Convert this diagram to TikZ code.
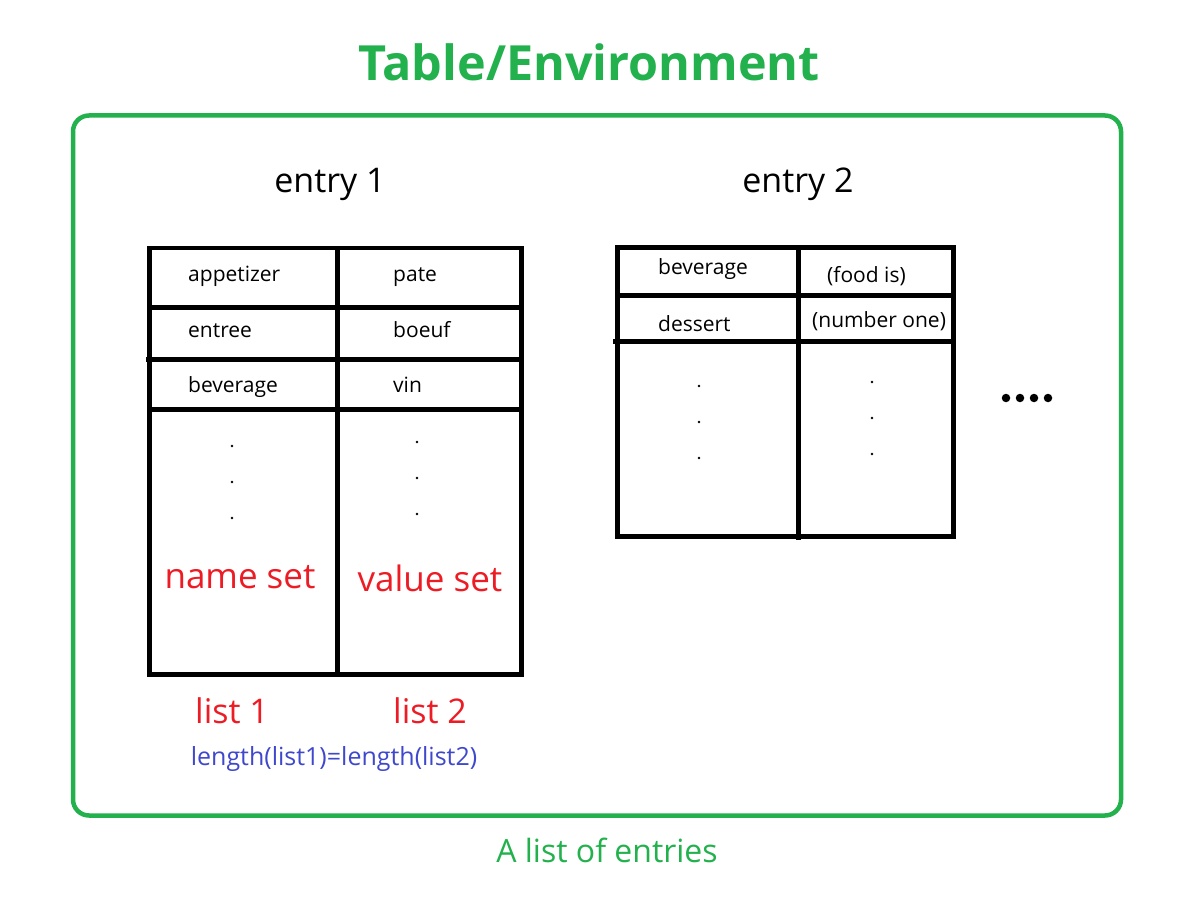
\documentclass[tikz,border=0pt]{standalone}
\usepackage{fontspec}
\setmainfont{Open Sans}
\definecolor{pgreen}{HTML}{22B14C}
\definecolor{pred}{HTML}{ED1C24}
\definecolor{pblue}{HTML}{3F48CC}
\tikzset{
  grid/.style={line width=4.5pt, black},
  cell/.style={anchor=base west, inner sep=0pt, font=\fontsize{21}{24}\selectfont},
  redlbl/.style={anchor=base, inner sep=0pt, text=pred, font=\fontsize{35}{40}\selectfont},
  entrylbl/.style={anchor=base, inner sep=0pt, font=\fontsize{34}{40}\selectfont},
  smalldot/.style={circle, fill=black, inner sep=0pt, minimum size=2.8pt},
  bigdot/.style={circle, fill=black, inner sep=0pt, minimum size=8.5pt},
}
\begin{document}
\begin{tikzpicture}[x=1pt,y=-1pt]
\useasboundingbox (0,0) rectangle (1202,904);
% frame
\draw[pgreen, line width=4.5pt, rounded corners=16pt] (73,115.5) rectangle (1121,815.5);
\node[anchor=base, inner sep=0pt, text=pgreen, font=\fontsize{48.5}{56}\selectfont\bfseries] (title) at (589,81) {Table/Environment};
\node[anchor=base, inner sep=0pt, text=pgreen, font=\fontsize{32}{38}\selectfont] (caption) at (607,862) {A list of entries};

% entry 1
\node[entrylbl] (e1) at (330,193) {entry 1};
\draw[grid] (149.5,248) rectangle (521.5,674.5);
\draw[grid] (337.5,248) -- (337.5,674.5);
\draw[grid] (149.5,307.5) -- (521.5,307.5);
\draw[grid] (146,359.5) -- (521.5,359.5);
\draw[grid] (149.5,409.5) -- (521.5,409.5);
\node[cell] (a1) at (188,281) {appetizer};
\node[cell] (a2) at (393,281) {pate};
\node[cell] (b1) at (188,337) {entree};
\node[cell] (b2) at (393,337) {boeuf};
\node[cell] (c1) at (188,392) {beverage};
\node[cell] (c2) at (393,392) {vin};
\foreach \y [count=\i] in {446,482,518} \node[smalldot] (dl\i) at (232,\y) {};
\foreach \y [count=\i] in {442,478,514} \node[smalldot] (dr\i) at (417,\y) {};
\node[redlbl] (nameset) at (240,588) {name set};
\node[redlbl] (valueset) at (430,591) {value set};
\node[redlbl, font=\fontsize{34}{40}\selectfont] (list1) at (232,723) {list 1};
\node[redlbl, font=\fontsize{34}{40}\selectfont] (list2) at (430,723) {list 2};
\node[anchor=base, inner sep=0pt, text=pblue, font=\fontsize{25}{28}\selectfont] (len) at (334,765) {length(list1)=length(list2)};

% entry 2
\node[entrylbl] (e2) at (798,193) {entry 2};
\draw[grid] (617.5,247.5) rectangle (953.5,536.5);
\draw[grid] (798.5,247.5) -- (798.5,540);
\draw[grid] (617.5,295.5) -- (953.5,295.5);
\draw[grid] (613,341.5) -- (953.5,341.5);
\node[cell] (f1) at (658,274) {beverage};
\node[cell] (f2) at (827,282) {(food is)};
\node[cell] (g1) at (658,331) {dessert};
\node[cell] (g2) at (812,327) {(number one)};
\foreach \y [count=\i] in {386,422,458} \node[smalldot] (el\i) at (699,\y) {};
\foreach \y [count=\i] in {382,418,454} \node[smalldot] (er\i) at (872,\y) {};
\foreach \x [count=\i] in {1006,1020,1034,1048} \node[bigdot] (m\i) at (\x,398) {};
\end{tikzpicture}
\end{document}
